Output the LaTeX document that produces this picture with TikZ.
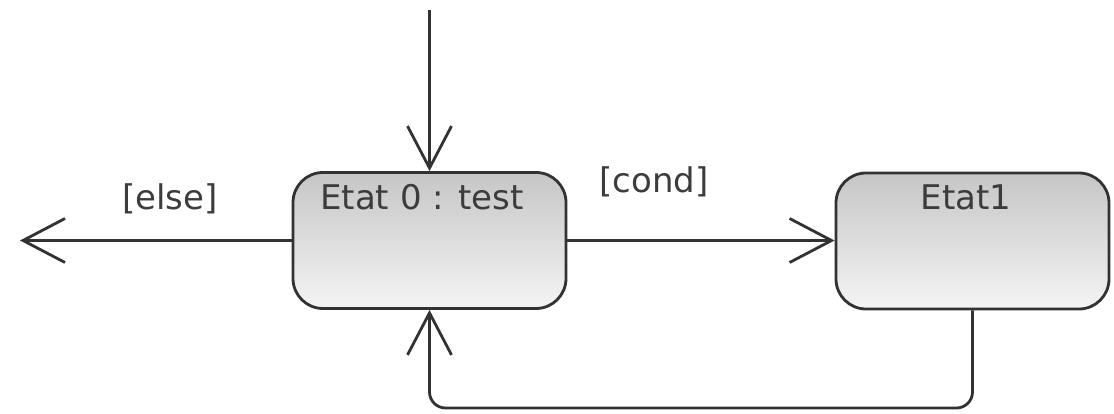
\documentclass[tikz,border=0pt]{standalone}
\usepackage{fontspec}
\setmainfont{DejaVu Sans}
\usetikzlibrary{arrows.meta}
\definecolor{inkgray}{RGB}{50,50,50}
\definecolor{textgray}{RGB}{60,60,60}
\definecolor{shadetop}{RGB}{198,198,198}
\definecolor{shadebot}{RGB}{244,244,244}
\tikzset{
  state/.style={draw=inkgray, line width=2.8pt, rounded corners=30pt,
    top color=shadetop, bottom color=shadebot, inner sep=0pt},
  title/.style={text=textgray, font=\fontsize{34}{36}\selectfont, inner sep=0pt},
  guard/.style={text=textgray, font=\fontsize{34}{36}\selectfont, inner sep=0pt},
  trans/.style={draw=inkgray, line width=2.8pt,
    -{Straight Barb[length=42pt, width=44pt, line width=2.8pt]}}
}
\begin{document}
\begin{tikzpicture}[x=1pt, y=-1pt]
\useasboundingbox (0,0) rectangle (1114,414);
% states
\node[state, minimum width=273pt, minimum height=136pt] (s0) at (429.5,240.5) {};
\node[state, minimum width=273pt, minimum height=136pt] (s1) at (972.5,241) {};
\node[title] (s0t) at (422,197) {Etat 0 : test};
\node[title] (s1t) at (966,197) {Etat1};
% free ends
\coordinate (init) at (429.5,10);
\coordinate (out) at (20,240.5);
\coordinate (loop) at (700,408);
% transitions
\draw[trans] (init) -- (s0.north);
\draw[trans] (s0.west) -- (out);
\draw[trans] (s0.east) -- (s1.west |- s0.east);
\draw[trans, rounded corners=16pt] (s1.south) |- (loop) -| (s0.south);
% guards
\node[guard] (g1) at (170,199) {[else]};
\node[guard] (g2) at (654,182) {[cond]};
\end{tikzpicture}
\end{document}
